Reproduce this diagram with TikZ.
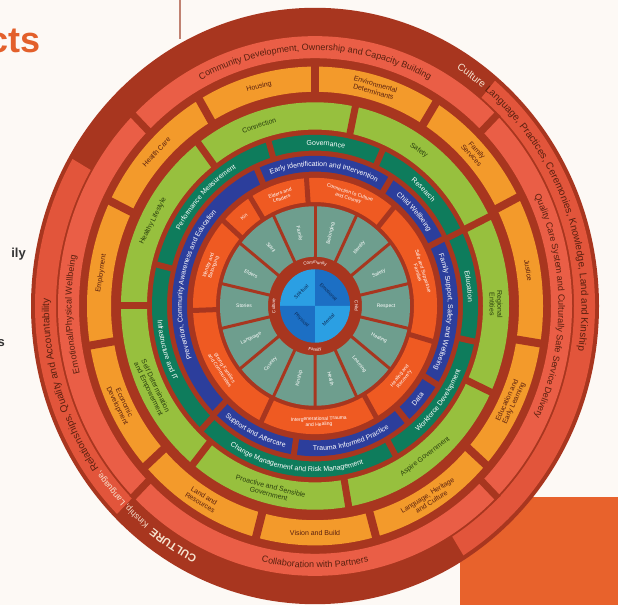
\documentclass[tikz,border=0pt]{standalone}
\usepackage{fontspec}
\setmainfont{Liberation Sans}
\usetikzlibrary{decorations.text}
\definecolor{bgcream}{HTML}{FDF9F5}
\definecolor{darkred}{HTML}{A8361F}
\definecolor{bandsal}{HTML}{E2553B}
\definecolor{salmon}{HTML}{EA5E46}
\definecolor{ringorange}{HTML}{F39A2B}
\definecolor{ringgreen}{HTML}{97C03E}
\definecolor{ringteal}{HTML}{0E7C5C}
\definecolor{ringblue}{HTML}{2C3E9C}
\definecolor{ringred}{HTML}{EF5A22}
\definecolor{ringgrey}{HTML}{6E9E8E}
\definecolor{hubblue}{HTML}{2B9FE3}
\definecolor{hubdark}{HTML}{1C6FC4}
\definecolor{browntext}{HTML}{5A200F}
\definecolor{greentext}{HTML}{2A3F0E}
\definecolor{creamtext}{HTML}{F6E3CF}
\definecolor{titleorange}{HTML}{E3602B}
\definecolor{panelorange}{HTML}{E8622C}
\definecolor{textgrey}{HTML}{333333}
\definecolor{rulebrown}{HTML}{C08272}
\definecolor{hubtext}{HTML}{0E2A55}
% annular sector: colour, start, end, inner r, outer r
\newcommand\annseg[5]{\fill[#1] (#2:#4) arc[start angle=#2,end angle=#3,radius=#4]
  -- (#3:#5) arc[start angle=#3,end angle=#2,radius=#5] -- cycle;}
% text on an arc: font, colour, start, end, radius, text
\newcommand\arclabel[6]{\path[decorate,decoration={text along path,text align=center,
  text color=#2,text={|#1|#6}}] (#3:#5) arc[start angle=#3,end angle=#4,radius=#5];}
\tikzset{
  cutline/.style={darkred,line width=#1},
  orlbl/.style={font=\fontsize{7}{7.6}\selectfont,text=browntext,align=center,inner sep=0},
  grlbl/.style={font=\fontsize{7}{7.6}\selectfont,text=greentext,align=center,inner sep=0},
  redlbl/.style={font=\fontsize{5}{5.6}\selectfont,text=white,align=center,inner sep=0},
  greylbl/.style={font=\fontsize{5}{5.6}\selectfont,text=white,align=center,inner sep=0},
  hublbl/.style={font=\fontsize{5}{5.6}\selectfont,text=hubtext,inner sep=0}
}
\begin{document}
\begin{tikzpicture}[x=1pt,y=1pt]
\useasboundingbox (0,0) rectangle (618,605);
\fill[bgcream] (0,0) rectangle (618,605);
\begin{scope}
\clip (0,0) rectangle (618,605);
% page bits around the wheel
\fill[panelorange] (460,0) rectangle (618,108);
\draw[rulebrown,line width=1.5] (180,605) -- (180,566);
\node[anchor=base east,inner sep=0,font=\fontsize{36}{36}\selectfont\bfseries,text=titleorange] (title) at (41,552) {cts};
\node[anchor=base east,inner sep=0,font=\fontsize{13}{13}\selectfont\bfseries,text=textgrey] (famword) at (26,347) {ily};
\node[anchor=base east,inner sep=0,font=\fontsize{13}{13}\selectfont\bfseries,text=textgrey] (plword) at (5,258) {s};

\begin{scope}[shift={(315,299)},yscale=1.05]
  \fill[darkred] (0,0) circle (284);
  % outer band
  \annseg{bandsal}{-58}{50}{259}{280}
  \annseg{bandsal}{150}{225}{259}{280}
  \arclabel{\fontsize{8.5}{9}\selectfont}{browntext}{63}{-14}{266.5}{|\color{creamtext}|Culture |\color{browntext}|Language, Practices, Ceremonies, Knowledge, Land and Kinship}
  \arclabel{\fontsize{8.5}{9}\selectfont}{creamtext}{-97}{-200}{266}{|\fontsize{11}{12}\selectfont\bfseries|CULTURE |\fontsize{8.5}{9}\selectfont\mdseries| Kinship, Language, |\color{browntext}|Relationships, Quality and Accountability}
  % salmon ring
  \fill[salmon,even odd rule] (0,0) circle (257) circle (236);
  \foreach \a in {45,135,225,315} \draw[cutline=7] (\a:234) -- (\a:259);
  \arclabel{\fontsize{9}{10}\selectfont}{browntext}{135}{45}{243.5}{Community Development, Ownership and Capacity Building}
  \arclabel{\fontsize{9}{10}\selectfont}{browntext}{40}{-40}{243.5}{Quality Care System and Culturally Safe Service Delivery}
  \arclabel{\fontsize{9}{10}\selectfont}{browntext}{-135}{-45}{249.5}{Collaboration with Partners}
  \arclabel{\fontsize{9}{10}\selectfont}{browntext}{224}{140}{243.5}{Emotional/Physical Wellbeing}
  % orange ring
  \fill[ringorange,even odd rule] (0,0) circle (228) circle (204);
  \foreach \a in {120.5,154,189.5,222,255,285.5,318.5,351,27,58,90}
    \draw[cutline=8] (\a:202) -- (\a:230);
  \foreach \nm/\a/\rot/\txt in {
    hc/137.25/47.25/{Health Care},
    ho/105/15/{Housing},
    en/74/-16/{Environmental\\Determinants},
    fs/42.5/-47.5/{Family\\Services},
    ju/9/-81/{Justice},
    el/-25/65/{Education and\\Early Learning},
    lh/-58/32/{Language, Heritage\\and Culture},
    vb/-90/0/{Vision and Build},
    lr/-121.5/-31.5/{Land and\\Resources},
    ec/205.75/-64.25/{Economic\\Development},
    em/171.75/81.75/{Employment}}
    \node[orlbl,rotate=\rot] (or-\nm) at (\a:216) {\txt};
  % green ring
  \fill[ringgreen,even odd rule] (0,0) circle (194) circle (168);
  \foreach \a in {127,180,231,280,335,26,78}
    \draw[cutline=7] (\a:166) -- (\a:196);
  \foreach \nm/\a/\rot/\txt in {
    cn/108/18/{Connection},
    sf/55/-35/{Safety},
    rg/0.5/-89.5/{Regional\\Entities},
    ag/-52.5/37.5/{Aspire Government},
    pg/-104.5/-14.5/{Proactive and Sensible\\Government},
    sd/205.5/-64.5/{Self Determination\\and Empowerment},
    hl/153.5/63.5/{Healthy Lifestyle}}
    \node[grlbl,rotate=\rot] (gr-\nm) at (\a:181) {\txt};
  % teal ring
  \fill[ringteal,even odd rule] (0,0) circle (163) circle (148);
  \foreach \a in {106.5,65.5,26,-12,-60.5,-134,166}
    \draw[cutline=6] (\a:146) -- (\a:165);
  \arclabel{\fontsize{7}{8}\selectfont}{white}{106.5}{65.5}{153}{Governance}
  \arclabel{\fontsize{7}{8}\selectfont}{white}{65.5}{26}{153}{Research}
  \arclabel{\fontsize{7}{8}\selectfont}{white}{26}{-12}{153}{Education}
  \arclabel{\fontsize{7}{8}\selectfont}{white}{-60.5}{-12}{158}{Workforce Development}
  \arclabel{\fontsize{7}{8}\selectfont}{white}{-134}{-60.5}{158}{Change Management and Risk Management}
  \arclabel{\fontsize{7}{8}\selectfont}{white}{166}{226}{158}{Infrastructure and IT}
  \arclabel{\fontsize{7}{8}\selectfont}{white}{166}{106.5}{153}{Performance Measurement}
  % blue ring
  \fill[ringblue,even odd rule] (0,0) circle (143) circle (128);
  \foreach \a in {114,58,26.5,-31.5,-50,-98.5,-134.5}
    \draw[cutline=6] (\a:126) -- (\a:145);
  \arclabel{\fontsize{7}{8}\selectfont}{white}{114}{58}{133}{Early Identification and Intervention}
  \arclabel{\fontsize{7}{8}\selectfont}{white}{58}{26.5}{133}{Child Wellbeing}
  \arclabel{\fontsize{7}{8}\selectfont}{white}{26.5}{-31.5}{133}{Family Support, Safety and Wellbeing}
  \arclabel{\fontsize{7}{8}\selectfont}{white}{-50}{-31.5}{138}{Data}
  \arclabel{\fontsize{7}{8}\selectfont}{white}{-98.5}{-50}{138}{Trauma Informed Practice}
  \arclabel{\fontsize{7}{8}\selectfont}{white}{-134.5}{-98.5}{138}{Support and Aftercare}
  \arclabel{\fontsize{7}{8}\selectfont}{white}{225.5}{114}{133}{Prevention, Community Awareness and Education}
  % orange-red ring
  \fill[ringred,even odd rule] (0,0) circle (122) circle (99);
  \foreach \a in {94,50,-16,-60,-116,182,138.5,122}
    \draw[cutline=5] (\a:97) -- (\a:124);
  \foreach \nm/\a/\rot/\txt in {
    cc/72/-18/{Connection to Culture\\and Country},
    sp/17/-73/{Safe and Supportive\\Families},
    hr/-38/52/{Healing and\\Recovery},
    it/-88/2/{Intergenerational Trauma\\and Healing},
    sc/-147/-57/{Strong Families\\and Communities},
    ib/160/70/{Identity and\\Belonging},
    kn/130/40/{Kin},
    el/108/18/{Elders and\\Leaders}}
    \node[redlbl,rotate=\rot] (rd-\nm) at (\a:110.5) {\txt};
  % grey segments
  \fill[ringgrey,even odd rule] (0,0) circle (95) circle (47);
  \foreach \k in {0,...,13}
    \draw[cutline=3] (90+\k*25.714:45) -- (90+\k*25.714:97);
  \foreach \nm/\a/\rot/\txt in {
    be/77.14/77.14/Belonging, id/51.43/51.43/Identity, sa/25.71/25.71/Safety,
    rs/0/0/Respect, he/-25.71/-25.71/Healing, le/-51.43/-51.43/Learning,
    hh/-77.14/-77.14/Health, ki/-102.86/77.14/Kinship, co/-128.57/51.43/Country,
    la/-154.29/25.71/Language, st/180/0/Stories, ed/154.29/-25.71/Elders,
    sr/128.57/-51.43/Spirit, fa/102.86/-77.14/Family}
    \node[greylbl,rotate=\rot] (gy-\nm) at (\a:71) {\txt};
  % inner ring words
  \arclabel{\fontsize{4.5}{5}\selectfont}{white}{125}{55}{40}{Community}
  \arclabel{\fontsize{4.5}{5}\selectfont}{white}{25}{-25}{40}{Child}
  \arclabel{\fontsize{4.5}{5}\selectfont}{white}{-125}{-55}{43}{Family}
  \arclabel{\fontsize{4.5}{5}\selectfont}{white}{205}{155}{40}{Culture}
  % hub
  \fill[hubblue] (0,0) -- (90:35) arc[start angle=90,end angle=180,radius=35] -- cycle;
  \fill[hubdark] (0,0) -- (0:35) arc[start angle=0,end angle=90,radius=35] -- cycle;
  \fill[hubdark] (0,0) -- (180:35) arc[start angle=180,end angle=270,radius=35] -- cycle;
  \fill[hubblue] (0,0) -- (270:35) arc[start angle=270,end angle=360,radius=35] -- cycle;
  \node[hublbl,rotate=45] (hub-sp) at (135:19) {Spiritual};
  \node[hublbl,rotate=-45] (hub-em) at (45:19) {Emotional};
  \node[hublbl,rotate=-45] (hub-ph) at (225:19) {Physical};
  \node[hublbl,rotate=45] (hub-me) at (315:19) {Mental};
\end{scope}
\end{scope}
\end{tikzpicture}
\end{document}
